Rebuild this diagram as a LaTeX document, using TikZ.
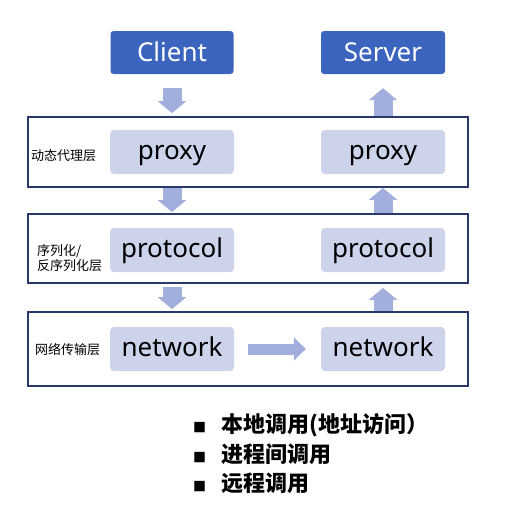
\documentclass[tikz,border=0pt]{standalone}
\usepackage{fontspec}
\setmainfont{Noto Sans}
\newfontfamily\cjk{Noto Sans CJK SC}
\usepackage{tikz}
\usetikzlibrary{arrows.meta,positioning,calc}
\usepackage{xcolor}
\definecolor{endblue}{RGB}{58,100,190}
\definecolor{boxlav}{RGB}{206,211,236}
\definecolor{arrlav}{RGB}{162,174,220}
\definecolor{framenavy}{RGB}{40,58,108}
\newcommand{\sq}{{\fontsize{13}{13}\selectfont■}\hspace{15pt}}

\begin{document}
\begin{tikzpicture}[x=1pt,y=-1pt,
      endpt/.style={fill=endblue,text=white,rounded corners=3pt,minimum width=123pt,minimum height=43pt,font=\fontsize{26}{30}\selectfont,text height=18.6pt,text depth=0pt},
      part/.style={fill=boxlav,rounded corners=4pt,minimum width=124pt,minimum height=44pt,font=\fontsize{26}{30}\selectfont,text height=14pt,text depth=0pt},
      layer/.style={draw=framenavy,line width=1.8pt,minimum width=440pt,inner sep=0pt},
      lname/.style={font=\cjk\fontsize{13}{15}\selectfont,inner sep=0pt,anchor=west,align=left},
      blk/.style={draw=arrlav,line width=19pt,-{Triangle[width=28pt,length=12pt]}},
      flat/.style={draw=arrlav,line width=11pt,-{Triangle[width=23pt,length=12pt]}},
      item/.style={font=\cjk\bfseries\fontsize{22}{25}\selectfont,anchor=west,inner sep=0pt}]
    \useasboundingbox (0,0) rectangle (517,517);
    % the three layers
    \node[layer,minimum height=70pt] (l1) at (248,152) {};
    \node[layer,minimum height=69pt] (l2) at (248,248.5) {};
    \node[layer,minimum height=74pt] (l3) at (248,349) {};
    \node[lname] (n1) at (31,156) {动态代理层};
    \node[lname] (n2) at (37,258) {序列化/\\反序列化层};
    \node[lname] (n3) at (35,350) {网络传输层};
    % both ends
    \node[endpt] (client) at (172,52.5) {Client};
    \node[endpt,minimum width=124pt] (server) at (383,52.5) {Server};
    \node[part] (cproxy) at (172,152) {proxy};
    \node[part] (sproxy) at (383,152) {proxy};
    \node[part] (cproto) at (172,250) {protocol};
    \node[part] (sproto) at (383,250) {protocol};
    \node[part] (cnet) at (172,349) {network};
    \node[part] (snet) at (383,349) {network};
    % calls go down on the left, up on the right
    \draw[blk] ([yshift=-14pt]client.south) -- ([yshift=3pt]l1.north -| client);
    \draw[blk] (l1.south -| client) -- ([yshift=1pt]l2.north -| client);
    \draw[blk] ([yshift=-3pt]l2.south -| client) -- ([yshift=2pt]l3.north -| client);
    \draw[flat] ([xshift=14pt]cnet.east) -- ([xshift=-15pt]snet.west);
    \draw[blk] (l3.north -| server) -- ([yshift=-4pt]l2.south -| server);
    \draw[blk] (l2.north -| server) -- (l1.south -| server);
    \draw[blk] (l1.north -| server) -- ([yshift=-14pt]server.south);
    % kinds of calls
    \node[item] (i1) at (193,425) {\sq 本地调用(地址访问）};
    \node[item] (i2) at (193,454) {\sq 进程间调用};
    \node[item] (i3) at (193,483) {\sq 远程调用};
  \end{tikzpicture}
\end{document}
